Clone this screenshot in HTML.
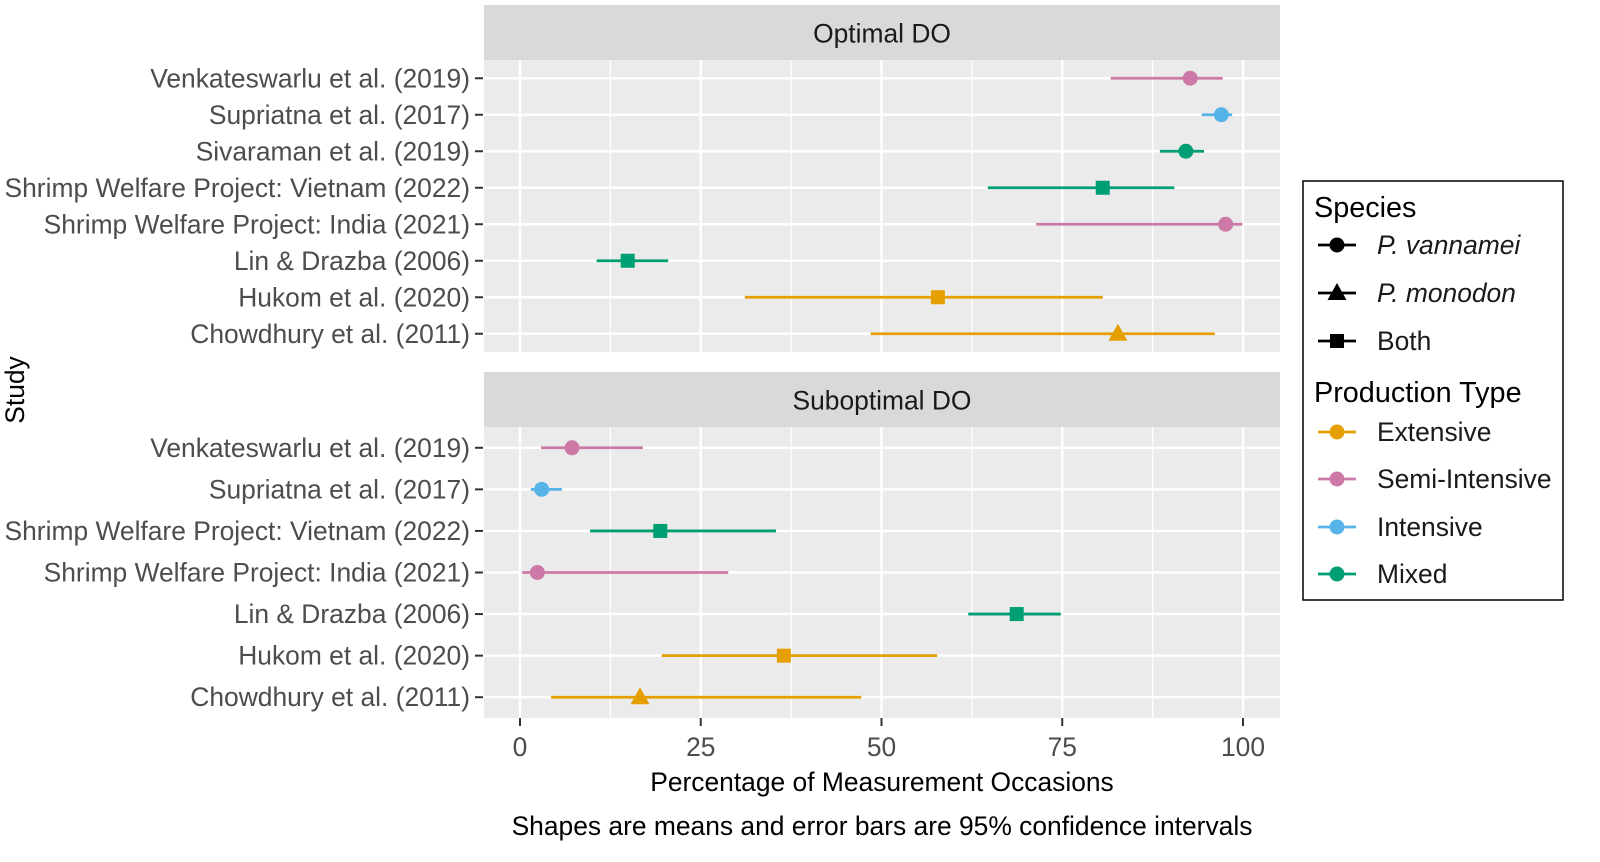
<!DOCTYPE html>
<html><head><meta charset="utf-8"><style>
body{margin:0;background:#fff;}
svg{display:block;font-family:"Liberation Sans",sans-serif;}
</style></head><body>
<svg id="chart" width="1600" height="862" viewBox="0 0 1600 862" xmlns="http://www.w3.org/2000/svg"></svg>
<script>
const topStudies = ["Venkateswarlu et al. (2019)","Supriatna et al. (2017)","Sivaraman et al. (2019)","Shrimp Welfare Project: Vietnam (2022)","Shrimp Welfare Project: India (2021)","Lin & Drazba (2006)","Hukom et al. (2020)","Chowdhury et al. (2011)"];
const topMean = [92.7,97.0,92.1,80.6,97.6,14.9,57.8,82.7];
const topLow  = [81.7,94.3,88.5,64.7,71.4,10.6,31.1,48.5];
const topHigh = [97.2,98.5,94.6,90.5,99.9,20.5,80.6,96.1];
const topType = ["Semi-Intensive","Intensive","Mixed","Mixed","Semi-Intensive","Mixed","Extensive","Extensive"];
const topShape = ["circle","circle","circle","square","circle","square","square","triangle"];
const botStudies = ["Venkateswarlu et al. (2019)","Supriatna et al. (2017)","Shrimp Welfare Project: Vietnam (2022)","Shrimp Welfare Project: India (2021)","Lin & Drazba (2006)","Hukom et al. (2020)","Chowdhury et al. (2011)"];
const botMean = [7.2,3.0,19.4,2.4,68.7,36.5,16.6];
const botLow  = [2.9,1.5,9.7,0.3,62.0,19.6,4.3];
const botHigh = [17.0,5.8,35.4,28.8,74.8,57.7,47.2];
const botType = ["Semi-Intensive","Intensive","Mixed","Semi-Intensive","Mixed","Extensive","Extensive"];
const botShape = ["circle","circle","square","circle","square","square","triangle"];
const xTicks = [0,25,50,75,100];
const colors = {"Extensive":"#E69F00","Semi-Intensive":"#CC79A7","Intensive":"#56B4E9","Mixed":"#009E73"};

const svg = document.getElementById('chart');
const NS = "http://www.w3.org/2000/svg";
function el(tag, attrs, parent){const e=document.createElementNS(NS,tag);for(const k in attrs)e.setAttribute(k,attrs[k]);(parent||svg).appendChild(e);return e;}
function txt(s, attrs, parent){const e=el('text',attrs,parent);e.textContent=s;return e;}
const X0=484, X1=1280;
const xs = v => 520 + v*(1243-520)/100;
const FS=26.4;

function panel(name, title, stripY, pTop, pBot, studies, mean, low, high, type, shape){
  const g = el('g',{});
  
  
  const s=el('rect',{x:X0,y:stripY,width:X1-X0,height:pTop-stripY,fill:'#D9D9D9'},g);
  
  
  txt(title,{x:(X0+X1)/2,y:(stripY+pTop)/2+10,'font-size':FS,'text-anchor':'middle',fill:'#1A1A1A'},g);
  el('rect',{x:X0,y:pTop,width:X1-X0,height:pBot-pTop,fill:'#EBEBEB'},g);
  for(let i=0;i<xTicks.length-1;i++){const m=(xTicks[i]+xTicks[i+1])/2;el('line',{x1:xs(m),x2:xs(m),y1:pTop,y2:pBot,stroke:'#fff','stroke-width':1.2},g);}
  const n=studies.length, step=(pBot-pTop)/n;
  const ys = i => pTop + step*(i+0.5);
  xTicks.forEach(t=>el('line',{x1:xs(t),x2:xs(t),y1:pTop,y2:pBot,stroke:'#fff','stroke-width':2.4},g));
  studies.forEach((st,i)=>{
    el('line',{x1:X0,x2:X1,y1:ys(i),y2:ys(i),stroke:'#fff','stroke-width':2.4},g);
    const lab=txt(st,{x:470,y:ys(i)+9,'font-size':FS,'text-anchor':'end',fill:'#4D4D4D'},g);
    
    
    el('line',{x1:475,x2:483,y1:ys(i),y2:ys(i),stroke:'#333','stroke-width':2},g);
  });
  studies.forEach((st,i)=>{
    const c=colors[type[i]], y=ys(i);
    const eb=el('line',{x1:xs(low[i]),x2:xs(high[i]),y1:y,y2:y,stroke:c,'stroke-width':2.8},g);
    
    
    const x=xs(mean[i]); let p;
    if(shape[i]==='circle') p=el('circle',{cx:x,cy:y,r:7.5,fill:c},g);
    else if(shape[i]==='square') p=el('rect',{x:x-7,y:y-7,width:14,height:14,fill:c},g);
    else p=el('polygon',{points:`${x},${y-10} ${x+9.5},${y+7} ${x-9.5},${y+7}`,fill:c},g);
    
    
  });
}
panel('optimal-panel','Optimal DO',5,60,352,topStudies,topMean,topLow,topHigh,topType,topShape);
panel('suboptimal-panel','Suboptimal DO',372,427,718,botStudies,botMean,botLow,botHigh,botType,botShape);

xTicks.forEach(t=>{
  el('line',{x1:xs(t),x2:xs(t),y1:718,y2:726,stroke:'#333','stroke-width':2});
  const l=txt(String(t),{x:xs(t),y:756,'font-size':FS,'text-anchor':'middle',fill:'#4D4D4D'});
  
  
});
const xt=txt('Percentage of Measurement Occasions',{x:882,y:791,'font-size':FS,'text-anchor':'middle',fill:'#000'});


const cap=txt('Shapes are means and error bars are 95% confidence intervals',{x:882,y:835,'font-size':FS,'text-anchor':'middle',fill:'#000'});


const yt=txt('Study',{x:0,y:0,'font-size':FS,'text-anchor':'middle',fill:'#000',transform:'translate(24,390) rotate(-90)'});



// legend
const lg=el('g',{});


el('rect',{x:1303,y:181,width:260,height:419,fill:'#fff',stroke:'#000','stroke-width':1.5},lg);
txt('Species',{x:1314,y:217,'font-size':28.8,fill:'#000'},lg);
const sp=[['P. vannamei','circle',245],['P. monodon','triangle',293],['Both','square',341]];
sp.forEach(([n,s,y])=>{
  el('line',{x1:1318,x2:1356,y1:y,y2:y,stroke:'#000','stroke-width':2.8},lg);
  const x=1337;
  if(s==='circle') el('circle',{cx:x,cy:y,r:7.5,fill:'#000'},lg);
  else if(s==='square') el('rect',{x:x-7,y:y-7,width:14,height:14,fill:'#000'},lg);
  else el('polygon',{points:`${x},${y-10} ${x+9.5},${y+7} ${x-9.5},${y+7}`,fill:'#000'},lg);
  const t=txt(n,{x:1377,y:y+9,'font-size':FS,fill:'#1A1A1A','font-style':s==='square'?'normal':'italic'},lg);
  
  
});
txt('Production Type',{x:1314,y:402,'font-size':28.8,fill:'#000'},lg);
[['Extensive',432],['Semi-Intensive',479],['Intensive',527],['Mixed',574]].forEach(([n,y])=>{
  el('line',{x1:1318,x2:1356,y1:y,y2:y,stroke:colors[n],'stroke-width':2.8},lg);
  el('circle',{cx:1337,cy:y,r:7.5,fill:colors[n]},lg);
  const t=txt(n,{x:1377,y:y+9,'font-size':FS,fill:'#1A1A1A'},lg);
  
  
});
</script>
</body></html>
